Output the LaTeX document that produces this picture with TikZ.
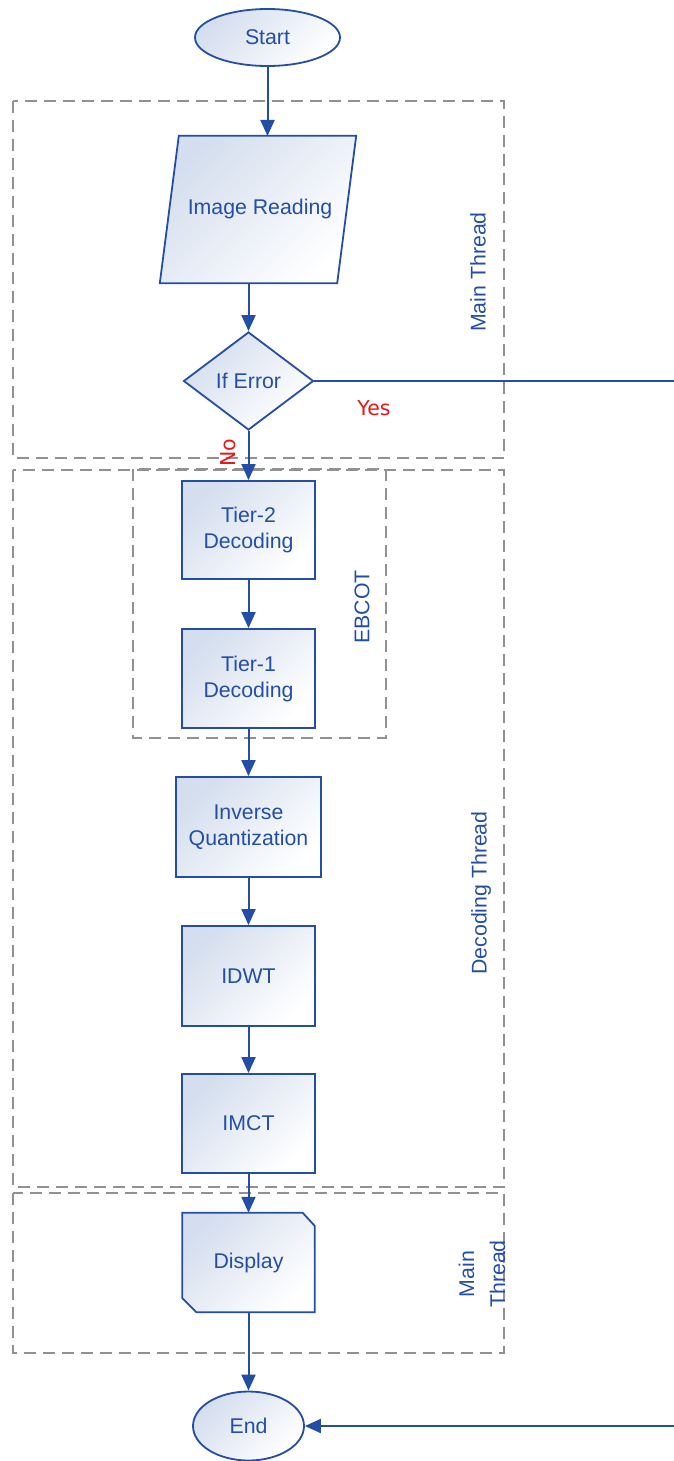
\documentclass[tikz,border=0pt]{standalone}
\usepackage{fontspec}
\setmainfont{Liberation Sans}
\newfontfamily\answerfont{DejaVu Sans}
\usetikzlibrary{shapes.geometric,arrows.meta}
\definecolor{flowblue}{RGB}{36,78,165}
\definecolor{shadeblue}{RGB}{212,222,238}
\definecolor{zonegray}{RGB}{145,145,145}
\definecolor{answerred}{RGB}{232,22,22}
\newcommand\flowfont{\fontsize{21.3}{26}\selectfont}
\begin{document}
\begin{tikzpicture}[x=1pt,y=-1pt,
  flowline/.style={draw=flowblue, line width=2pt, -{Triangle[length=16pt,width=14pt]}},
  shaded/.style={top color=shadeblue, bottom color=white, shading angle=45},
  outline/.style={draw=flowblue, line width=1.8pt},
  proc/.style={rectangle, outline, shaded, minimum width=133pt, minimum height=98pt,
    inner sep=0pt, align=center, text=flowblue, font=\flowfont},
  term/.style={ellipse, outline, shaded, inner sep=0pt, text=flowblue, font=\flowfont},
  area/.style={rectangle, inner sep=0pt},
  caption/.style={text=flowblue, font=\flowfont, inner sep=0pt},
  zone/.style={draw=zonegray, line width=1.4pt, dash pattern=on 12pt off 7pt},
  zonelabel/.style={rotate=90, text=flowblue, align=center, inner sep=0pt},
  answer/.style={text=answerred, font=\answerfont\fontsize{20.5}{24}\selectfont, inner sep=0pt}]

\useasboundingbox (0,0) rectangle (673,1461);

% thread zones
\draw[zone] (13,101) rectangle (504,458);
\draw[zone] (13,470) rectangle (504,1187);
\draw[zone] (133,469) rectangle (386,738);
\draw[zone] (13,1193) rectangle (504,1353);

\node[zonelabel, font=\flowfont] (mainlbl) at (478,272) {Main Thread};
\node[zonelabel, font=\flowfont] (ebcotlbl) at (362,607) {EBCOT};
\node[zonelabel, font=\flowfont] (declbl) at (481,893) {Decoding Thread};
\node[zonelabel, font=\fontsize{21.3}{31}\selectfont] (mainlbl2) at (482,1274) {Main\\Thread};

% terminals
\node[term, minimum width=145pt, minimum height=57pt] (start) at (267.5,37.5) {Start};
\node[term, minimum width=111pt, minimum height=69pt] (end) at (248.5,1426) {End};

% input: parallelogram
\node[area, minimum width=196pt, minimum height=147pt] (read) at (258,209.5) {};
\path[outline, shaded] ([xshift=19pt]read.north west) -- (read.north east)
  -- ([xshift=-19pt]read.south east) -- (read.south west) -- cycle;
\node[caption] (readtxt) at (260,209) {Image Reading};
\coordinate (readtop) at (267.5,136);
\coordinate (readbot) at (248.5,283);

% decision
\node[diamond, outline, shaded, inner sep=0pt, minimum width=130pt, minimum height=98pt,
  text=flowblue, font=\flowfont] (err) at (248.5,381) {If Error};

% decoding stages
\node[proc] (t2) at (248.5,530) {Tier-2\\Decoding};
\node[proc, minimum height=99pt] (t1) at (248.5,678.5) {Tier-1\\Decoding};
\node[proc, minimum width=145pt, minimum height=100pt] (iq) at (248.5,827) {Inverse\\Quantization};
\node[proc, minimum height=100pt] (idwt) at (248.5,976) {IDWT};
\node[proc, minimum height=99pt] (imct) at (248.5,1123.5) {IMCT};

% output: card with cut corners
\node[area, minimum width=132pt, minimum height=99pt] (disp) at (248.5,1262.5) {};
\path[outline, shaded] (disp.north west) -- ([xshift=-12pt]disp.north east)
  -- ([yshift=-13pt]disp.north east) -- (disp.south east)
  -- ([xshift=14pt]disp.south west) -- ([yshift=14pt]disp.south west) -- cycle;
\node[caption] (disptxt) at (disp) {Display};

% connectors
\draw[flowline] (start) -- (readtop);
\draw[flowline] (readbot) -- (err.north);
\draw[flowline] (err.south) -- (t2.north);
\draw[flowline] (t2) -- (t1);
\draw[flowline] (t1) -- (iq);
\draw[flowline] (iq) -- (idwt);
\draw[flowline] (idwt) -- (imct);
\draw[flowline] (imct) -- (disp.north);
\draw[flowline] (disp.south) -- (end);
\coordinate (errturn) at (676,1426);
\draw[flowline] (err.east) -| (errturn) -- (end.east);

\node[answer] (yes) at (374,408) {Yes};
\node[answer, rotate=90] (no) at (228,453) {No};
\end{tikzpicture}
\end{document}
